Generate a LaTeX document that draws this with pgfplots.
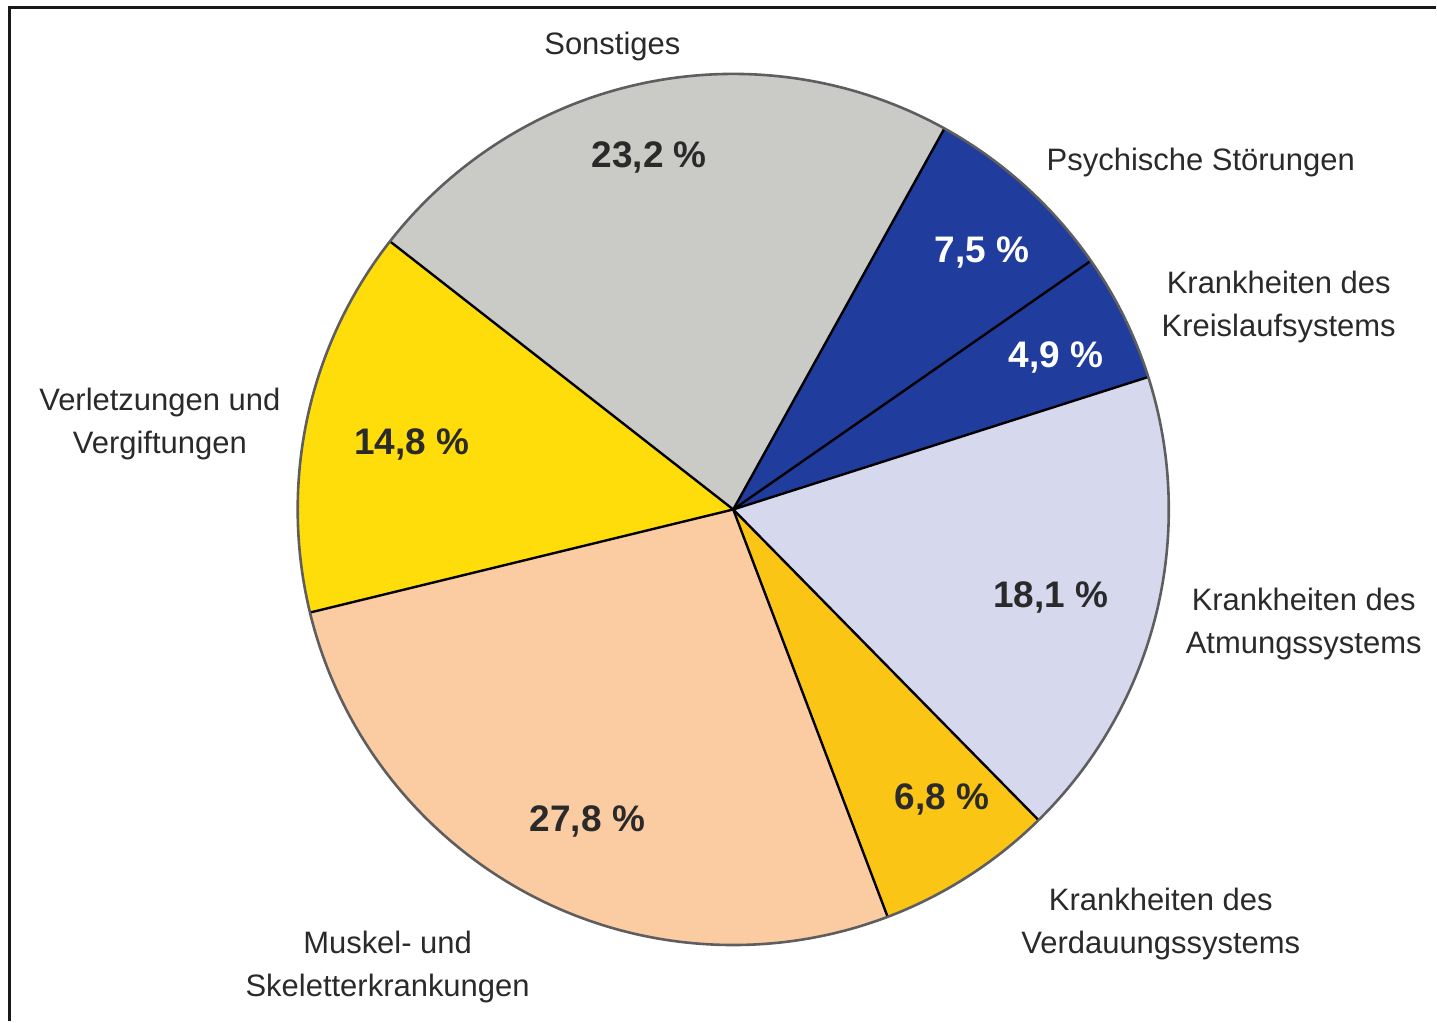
\documentclass[border=0pt]{standalone}
\usepackage{fontspec}
\setmainfont{Liberation Sans}
\usepackage{pgfplots}
\pgfplotsset{compat=1.18}

\definecolor{cSonst}{HTML}{CACAC6}
\definecolor{cBlue}{HTML}{203C9C}
\definecolor{cAtm}{HTML}{D6D8EE}
\definecolor{cVerd}{HTML}{FBC516}
\definecolor{cMusk}{HTML}{FBCBA2}
\definecolor{cVerl}{HTML}{FFDD0A}
\definecolor{cText}{HTML}{2A2A2A}
\definecolor{cRim}{HTML}{5E5E60}

\tikzset{
  lbl/.style={font=\fontsize{15.5}{21.5}\selectfont, text=cText, align=center, inner sep=0pt},
  val/.style={font=\fontsize{18.5}{22}\bfseries\selectfont, text=cText, inner sep=0pt},
}

% one pie sector: colour, start angle, end angle
\newcommand\sector[3]{%
  \fill[#1] (axis cs:734,512) -- ++(#2:218pt)
    arc[start angle=#2, end angle=#3, radius=218pt] -- cycle;}
\newcommand\spoke[1]{%
  \draw[black, line width=1.2pt] (axis cs:734,512) -- ++(#1:218pt);}

\begin{document}
\begin{tikzpicture}
% shares (in %) as printed in the chart
\def\vPsych{7.5}
\def\vKreis{4.9}
\def\vAtm{18.1}
\def\vVerd{6.8}
\def\vMusk{27.8}
\def\vVerl{14.8}
\def\vSonst{23.2}
\pgfmathsetmacro\tot{\vPsych+\vKreis+\vAtm+\vVerd+\vMusk+\vVerl+\vSonst}
\pgfmathsetmacro\aA{61}
\pgfmathsetmacro\aB{\aA-360*\vPsych/\tot}
\pgfmathsetmacro\aC{\aB-360*\vKreis/\tot}
\pgfmathsetmacro\aD{\aC-360*\vAtm/\tot}
\pgfmathsetmacro\aE{\aD-360*\vVerd/\tot}
\pgfmathsetmacro\aF{\aE-360*\vMusk/\tot}
\pgfmathsetmacro\aG{\aF-360*\vVerl/\tot}
\pgfmathsetmacro\aH{\aG-360*\vSonst/\tot}
\begin{axis}[
  width=718.5pt, height=511pt, scale only axis,
  xmin=0, xmax=1437, ymin=0, ymax=1022,
  hide axis, clip=false,
]
\path (axis cs:0,0) rectangle (axis cs:1437,1022);
% frame (top and left edge)
\draw[black!90, line width=1.5pt] (axis cs:9.5,0) -- (axis cs:9.5,1014.5) -- (axis cs:1437,1014.5);

% sectors
\sector{cBlue}{\aA}{\aB}
\sector{cBlue}{\aB}{\aC}
\sector{cAtm}{\aC}{\aD}
\sector{cVerd}{\aD}{\aE}
\sector{cMusk}{\aE}{\aF}
\sector{cVerl}{\aF}{\aG}
\sector{cSonst}{\aG}{\aH}
\spoke{\aA}\spoke{\aB}\spoke{\aC}\spoke{\aD}\spoke{\aE}\spoke{\aF}\spoke{\aG}
\draw[cRim, line width=1.3pt] (axis cs:734,512) circle[radius=218pt];

% values
\node[val] at (axis cs:650,864) {23,2 \%};
\node[val, text=white] at (axis cs:983,769) {7,5 \%};
\node[val, text=white] at (axis cs:1057,664) {4,9 \%};
\node[val] at (axis cs:1052,424) {18,1 \%};
\node[val] at (axis cs:943,222) {6,8 \%};
\node[val] at (axis cs:588,200) {27,8 \%};
\node[val] at (axis cs:412,577) {14,8 \%};

% category names
\node[lbl] at (axis cs:613,975) {Sonstiges};
\node[lbl] at (axis cs:1202,859) {Psychische Störungen};
\node[lbl] at (axis cs:1280,715) {Krankheiten des\\Kreislaufsystems};
\node[lbl] at (axis cs:160,598) {Verletzungen und\\Vergiftungen};
\node[lbl] at (axis cs:1305,397) {Krankheiten des\\Atmungssystems};
\node[lbl] at (axis cs:1162,97) {Krankheiten des\\Verdauungssystems};
\node[lbl] at (axis cs:388,54) {Muskel- und\\Skeletterkrankungen};
\end{axis}
\end{tikzpicture}
\end{document}
